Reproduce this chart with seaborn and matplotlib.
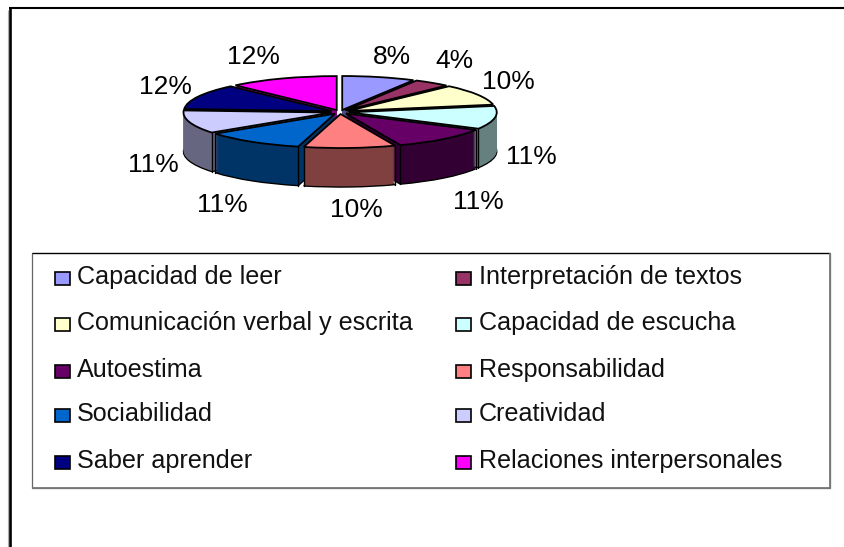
import numpy as np
import pandas as pd
import seaborn as sns
import matplotlib
matplotlib.use("Agg")
import matplotlib.pyplot as plt
from matplotlib.colors import to_rgb
from matplotlib.patches import Rectangle
from matplotlib.lines import Line2D

sns.set_theme(style="white")
plt.rcParams['font.family'] = ['Liberation Sans', 'DejaVu Sans']

categories = ["Capacidad de leer", "Interpretación de textos", "Comunicación verbal y escrita",
              "Capacidad de escucha", "Autoestima", "Responsabilidad", "Sociabilidad",
              "Creatividad", "Saber aprender", "Relaciones interpersonales"]
values = [8, 4, 10, 11, 11, 10, 11, 11, 12, 12]
labels = ["8%", "4%", "10%", "11%", "11%", "10%", "11%", "11%", "12%", "12%"]
colors = ["#9999FF", "#993366", "#FFFFCC", "#CCFFFF", "#660066",
          "#FF8080", "#0066CC", "#CCCCFF", "#000080", "#FF00FF"]
data = pd.DataFrame({"cat": categories, "val": values})

W, H = 844, 547
fig = plt.figure(figsize=(W/100, H/100), dpi=100)
fig.patch.set_facecolor("white")


def line(xs, ys, lw, c="black"):
    fig.add_artist(Line2D([x/W for x in xs], [1-y/H for y in ys], lw=lw, color=c,
                          solid_capstyle="butt"))


line([7.5, 7.5], [10, 547], 0.8, "#aaaaaa")
line([9.7, 9.7], [7, 547], 1.9)
line([8.5, 844], [8, 8], 1.5)

cx, cy, rx, ry = 340, 112, 148, 34
depth = 39
ax = fig.add_axes([0, 0, 1, 1])
ax.set_axis_off()
explode = [0.06]*len(values)
startangle = 90
side = [tuple(c*0.5 for c in to_rgb(col)) for col in colors]
for k in range(depth, 0, -1):
    wedges, _ = ax.pie(data["val"], colors=side, explode=explode, startangle=startangle,
                       counterclock=False, center=(0, -k/ry), radius=1,
                       wedgeprops=dict(lw=1.0 if k == depth else 0, edgecolor="black"))
    for w in wedges:
        w.set_zorder(10+depth-k)
wedges, _ = ax.pie(data["val"], colors=colors, explode=explode, startangle=startangle,
                   counterclock=False, center=(0, 0), radius=1,
                   wedgeprops=dict(lw=1.3, edgecolor="black"))
for w in wedges:
    w.set_zorder(100)
    # black vertical edges where a slice's rim faces the viewer
    for th in (w.theta1, w.theta2):
        xr = w.center[0] + w.r*np.cos(np.radians(th))
        yr = w.center[1] + w.r*np.sin(np.radians(th))
        if np.sin(np.radians(th)) < 0.05:
            ax.plot([xr, xr], [yr, yr-depth/ry], color="black", lw=1.0, zorder=90)
ax.set_aspect("auto")
ax.set_xlim((0-cx)/rx, (W-cx)/rx)
ax.set_ylim((cy-H)/ry, cy/ry)

label_pos = [(392, 57), (454, 61), (508, 82), (531, 157), (478, 202),
             (356, 210), (222, 205), (153, 165), (165, 87), (253, 57)]
for t, (x, y) in zip(labels, label_pos):
    fig.text(x/W, 1-y/H, t, fontsize=19, ha="center", va="center", color="black")

# legend box
fig.add_artist(Rectangle((32/W, 1-488/H), (830-32)/W, (488-253)/H, transform=fig.transFigure,
                         fc="white", ec="#666666", lw=0.9))
line([32, 830], [253, 253], 0.9, "black")
line([32, 830.5], [488, 488], 1.3, "#777777")
line([830, 830], [253, 488], 1.3, "#777777")
rows = [276, 322, 369, 413, 460]
xsq = [55, 456]
xtxt = [77, 479]
for i, (name, col) in enumerate(zip(categories, colors)):
    r, c = i//2, i % 2
    y = rows[r]
    fig.add_artist(Rectangle((xsq[c]/W, 1-(y+8.5)/H), 15/W, 12.5/H, transform=fig.transFigure,
                             fc=col, ec="black", lw=1.2))
    fig.text(xtxt[c]/W, 1-(y+1)/H, name, fontsize=18.1, ha="left", va="center", color="#111111")

fig.savefig("out.png", dpi=100)
